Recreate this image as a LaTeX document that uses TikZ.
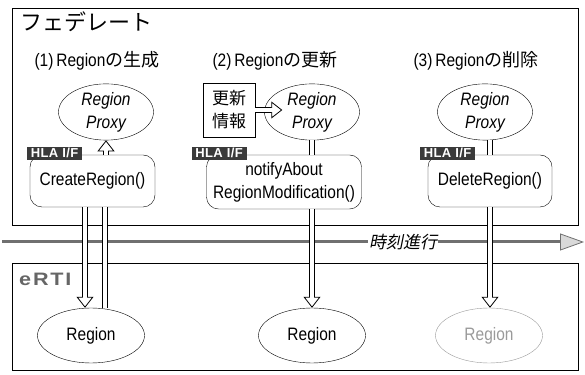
\documentclass[tikz,border=0pt]{standalone}
\usepackage{fontspec}
\setmainfont{Liberation Sans}[FakeStretch=0.86]
\newfontfamily\jp{Noto Sans CJK JP}
\newfontfamily\jpslant{Noto Sans CJK JP}[FakeSlant=0.2]
\newfontfamily\tagfont{Liberation Sans}[LetterSpace=3]
\newfontfamily\ertifont{Liberation Sans}[FakeStretch=1.2,LetterSpace=10]
\usetikzlibrary{arrows.meta,positioning,shapes.geometric,calc}
\definecolor{TagDark}{HTML}{3A3A3A}
\definecolor{TimeGray}{HTML}{707070}
\definecolor{FadeGray}{HTML}{9A9A9A}
\newcommand{\jpt}[1]{{\jp #1}}
\tikzset{
  frame/.style={draw,line width=0.7pt,inner sep=0pt},
  header/.style={font=\fontsize{18}{22}\selectfont,inner sep=0pt},
  proxy/.style={draw,ellipse,minimum width=95pt,minimum height=50pt,inner sep=0pt,
                align=center,font=\fontsize{18}{23}\selectfont\itshape},
  region/.style={draw,ellipse,minimum width=107pt,minimum height=55pt,inner sep=0pt,
                 font=\fontsize{18}{22}\selectfont},
  callbox/.style={draw,rounded corners=12pt,align=center,inner sep=2pt,
                  font=\fontsize{18}{23}\selectfont},
  infobox/.style={draw,align=center,minimum width=52pt,minimum height=54pt,inner sep=0pt,
                  font=\jp\fontsize{17}{23}\selectfont},
  tagbox/.style={fill=TagDark,text=white,inner sep=1pt,minimum width=55pt,minimum height=13pt,
                 font=\tagfont\bfseries\fontsize{13}{13}\selectfont},
  % outlined shafts: black band with a white core on top
  twin/.style={line width=5.6pt,postaction={draw=white,line width=4pt}},
  hollow/.style={line width=5.6pt,-{Triangle[fill=white,line width=0.8pt,length=11pt,width=17pt]},
                 postaction={draw=white,line width=4pt,-,shorten >=8pt}},
  timeline/.style={draw=TimeGray,line width=3pt,
                   -{Triangle[length=24pt,width=17pt,fill=gray!30,color=TimeGray,line width=0.8pt]}}
}
\begin{document}
\begin{tikzpicture}[x=1pt,y=1pt]
  \useasboundingbox (0,0) rectangle (585,374);

  % the two layers
  \node[frame,minimum width=566pt,minimum height=217pt] (fed) at (295,257.5) {};
  \node[frame,minimum width=566pt,minimum height=107pt] (erti) at (295,57.5) {};
  \node[anchor=west,inner sep=0pt,font=\jp\fontsize{22}{24}\selectfont] (fedname) at (20,352) {フェデレート};
  \node[anchor=west,inner sep=0pt,text=black!60,font=\ertifont\bfseries\fontsize{18}{20}\selectfont] (ertiname) at (19,95) {eRTI};

  % time axis
  \coordinate (tstart) at (2,132);
  \coordinate (tend) at (584,132);
  \draw[timeline] (tstart) -- (tend);
  \node[fill=white,inner sep=1pt,font=\jpslant\fontsize{17}{20}\selectfont] (time) at (403,132) {時刻進行};

  % headers
  \node[header] (h1) at (97,313) {(1)\,Region\jpt{の生成}};
  \node[header] (h2) at (275,313) {(2)\,Region\jpt{の更新}};
  \node[header] (h3) at (476,313) {(3)\,Region\jpt{の削除}};

  % federate side
  \node[proxy] (pA) at (106,262) {Region\\Proxy};
  \node[proxy] (pB) at (312,262) {Region\\Proxy};
  \node[proxy] (pC) at (485,262) {Region\\Proxy};
  \node[infobox] (info) at (229,264) {更新\\情報};

  \node[callbox,minimum width=125pt,minimum height=52pt] (create) at (92.5,193) {CreateRegion()};
  \node[callbox,minimum width=155pt,minimum height=54pt] (notify) at (284,192) {notifyAbout\\RegionModification()};
  \node[callbox,minimum width=124pt,minimum height=52pt] (delete) at (490,193) {DeleteRegion()};

  \node[tagbox,above right=-5pt and -3pt of create.north west] (tagA) {HLA I/F};
  \node[tagbox,above right=-5pt and -15pt of notify.north west] (tagB) {HLA I/F};
  \node[tagbox,above right=-5pt and -8pt of delete.north west] (tagC) {HLA I/F};

  % eRTI side
  \node[region] (rA) at (91,38.5) {Region};
  \node[region] (rB) at (312,38.5) {Region};
  \node[region,draw=FadeGray,text=FadeGray] (rC) at (489,38.5) {Region};

  % calls
  \draw[hollow] (create.north -| pA) -- (pA);
  \draw[hollow] ([xshift=-7.5pt]create.south) -- ([xshift=-6pt]rA.north);
  \draw[twin] ([xshift=14pt]rA.north) -- ([xshift=12.5pt]create.south);

  \draw[hollow] (info.east) -- ([xshift=18pt]pB.west |- info.east);
  \draw[twin] (pB) -- (notify.north -| pB);
  \draw[hollow] (notify.south -| rB) -- (rB);

  \draw[twin] (delete.north) -- (delete.north |- pC.south);
  \draw[hollow] (delete.south) -- (delete.south |- rC.north);
\end{tikzpicture}
\end{document}
